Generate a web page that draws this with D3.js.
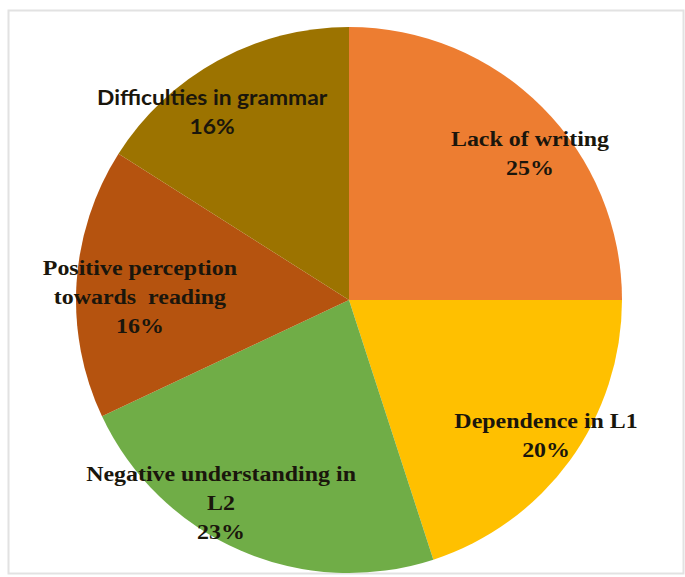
<!DOCTYPE html>
<html>
<head>
<meta charset="utf-8">
<script src="https://cdn.jsdelivr.net/npm/d3@7"></script>
<style>
  body { margin: 0; background: #fff; }
  svg { display: block; }
</style>
</head>
<body>
<div id="chart"></div>
<script>
// DATA
const labels = [
  ["Lack of writing"],
  ["Dependence in L1"],
  ["Negative understanding in", "L2"],
  ["Positive perception", "towards  reading"],
  ["Difficulties in grammar"]
];
const values = [25, 20, 23, 16, 16];
const colors = ["#ED7D31", "#FFC000", "#70AD47", "#B5530F", "#9C7300"];

function render() {
  const width  = 685;
  const height = 577;
  const cx = 349, cy = 300;
  const radius = 273;

  const svg = d3.select('#chart').append('svg')
      .attr('width', width)
      .attr('height', height);

  // faint picture frame
  svg.append('rect')
      .attr('x', 8.5).attr('y', 10.5)
      .attr('width', 675).attr('height', 563)
      .attr('fill', 'none')
      .attr('stroke', '#e2e2e2')
      .attr('stroke-width', 2);

  const g = svg.append('g')
      .attr('transform', `translate(${cx},${cy})`);

  const pie = d3.pie().sort(null).value(d => d);
  const arc = d3.arc().innerRadius(0).outerRadius(radius);
  const arcs = pie(values);

  g.selectAll('path.slice')
    .data(arcs)
    .enter()
    .append('path')
      .attr('class', 'slice')
      .attr('fill', (d, i) => colors[i])
      .attr('d', arc);

  // label centres: fraction of radius, and turn off the slice bisector (rad)
  const labelRadius = [0.853, 0.876, 0.879, 0.766, 0.849];
  const angleShift  = [0.105, -0.026, 0.154, -0.049, -0.129];

  arcs.forEach((d, i) => {
    const a = (d.startAngle + d.endAngle) / 2 + angleShift[i];
    const r = radius * labelRadius[i];
    const x = Math.sin(a) * r;
    const y = -Math.cos(a) * r;
    const lines = labels[i].concat([values[i] + '%']);
    const lh = 29;
    const isSans = i === 4;
    const t = g.append('text')
        .attr('transform', `translate(${x},${y}) scale(1.14,1)`)
        .attr('text-anchor', 'middle')
        .attr('font-family', isSans ? 'Lato, "Open Sans", sans-serif' : '"Liberation Serif", "Times New Roman", serif')
        .attr('font-weight', 'bold')
        .attr('font-size', isSans ? 20 : 21)
        .attr('fill', '#1a160c');
    lines.forEach((ln, k) => {
      t.append('tspan')
        .attr('x', 0)
        .attr('y', (k - (lines.length - 1) / 2) * lh + 7)
        .attr('xml:space', 'preserve')
        .text(ln);
    });
  });
}

window.onload = render;
</script>
</body>
</html>
